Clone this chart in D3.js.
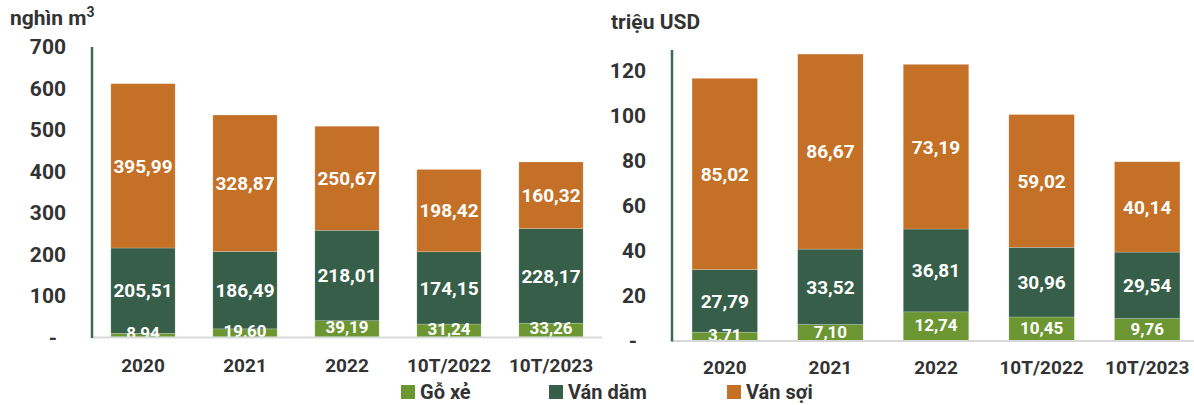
<!DOCTYPE html>
<html>
<head>
<meta charset="utf-8">
<script src="https://cdn.jsdelivr.net/npm/d3@7"></script>
<style>
  html, body { margin: 0; padding: 0; background: #fff; }
  svg { display: block; font-family: Roboto, "Open Sans", sans-serif; }
</style>
</head>
<body>
<svg id="chart" width="1194" height="405"></svg>
<script>
// Categories shared by both panels
const categories = ["2020", "2021", "2022", "10T/2022", "10T/2023"];
const seriesNames = ["Gỗ xẻ", "Ván dăm", "Ván sợi"];
const seriesColors = ["#6b9632", "#365e48", "#c47026"];

// Volume (nghìn m³)
const volGoXe   = [8.94, 19.60, 39.19, 31.24, 33.26];
const volVanDam = [205.51, 186.49, 218.01, 174.15, 228.17];
const volVanSoi = [395.99, 328.87, 250.67, 198.42, 160.32];
const volTicks  = [0, 100, 200, 300, 400, 500, 600, 700];

// Value (triệu USD)
const valGoXe   = [3.71, 7.10, 12.74, 10.45, 9.76];
const valVanDam = [27.79, 33.52, 36.81, 30.96, 29.54];
const valVanSoi = [85.02, 86.67, 73.19, 59.02, 40.14];
const valTicks  = [0, 20, 40, 60, 80, 100, 120];

const svg = d3.select("#chart");
const fmt = v => v.toFixed(2).replace(".", ",");

function drawPanel(opt) {
  const g = svg.append("g");
  const x = d3.scaleBand()
    .domain(categories)
    .range([opt.x0, opt.x1])
    .paddingInner(opt.padIn)
    .paddingOuter(opt.padOut);
  const y = d3.scaleLinear().domain([0, opt.max]).range([opt.y0, opt.yTop]);

  const rows = categories.map((c, i) => ({
    cat: c, vals: [opt.series[0][i], opt.series[1][i], opt.series[2][i]]
  }));
  const stacked = d3.stack().keys([0, 1, 2]).value((d, k) => d.vals[k])(rows);

  // stacked bars
  stacked.forEach((layer, k) => {
    g.append("g").selectAll("rect").data(layer).join("rect")
      .attr("x", d => x(d.data.cat))
      .attr("width", x.bandwidth())
      .attr("y", d => y(d[1]))
      .attr("height", d => y(d[0]) - y(d[1]))
      .attr("fill", seriesColors[k])
      .attr("stroke", "rgba(255,255,255,0.35)")
      .attr("stroke-width", 0.6);
  });

  // value labels centred in each segment
  stacked.forEach((layer, k) => {
    g.append("g").selectAll("text").data(layer).join("text")
      .attr("x", d => x(d.data.cat) + x.bandwidth() / 2)
      .attr("y", d => (y(d[0]) + y(d[1])) / 2 + (k === 0 ? opt.smallDy : 0))
      .attr("dy", "0.36em")
      .attr("text-anchor", "middle")
      .attr("fill", "#fff")
      .attr("font-weight", 700)
      .attr("font-size", k === 0 ? 17 : 19)
      .text(d => fmt(d.data.vals[k]));
  });

  // baseline
  g.append("line")
    .attr("x1", opt.x0).attr("x2", opt.baseEnd)
    .attr("y1", opt.y0 + 0.5).attr("y2", opt.y0 + 0.5)
    .attr("stroke", "#d9d9d9").attr("stroke-width", 2);

  // y axis line
  g.append("line")
    .attr("x1", opt.x0).attr("x2", opt.x0)
    .attr("y1", opt.axisTop).attr("y2", opt.y0 + 1)
    .attr("stroke", "#3d6b50").attr("stroke-width", 2.5);

  // y tick labels
  g.append("g").selectAll("text").data(opt.ticks).join("text")
    .attr("x", d => d === 0 ? opt.tickX - 13 : opt.tickX)
    .attr("y", d => y(d))
    .attr("dy", "0.36em")
    .attr("text-anchor", d => d === 0 ? "middle" : "end")
    .attr("fill", "#333")
    .attr("font-weight", 700)
    .attr("font-size", 21)
    .text(d => d === 0 ? "-" : d);

  // category labels
  g.append("g").selectAll("text").data(categories).join("text")
    .attr("x", d => x(d) + x.bandwidth() / 2)
    .attr("y", opt.catY)
    .attr("dy", "0.36em")
    .attr("text-anchor", "middle")
    .attr("fill", "#333")
    .attr("font-weight", 700)
    .attr("font-size", 19)
    .text(d => d);

  // unit title
  const t = g.append("text")
    .attr("x", opt.titleX).attr("y", opt.titleY)
    .attr("fill", "#333").attr("font-weight", 700).attr("font-size", 21);
  t.append("tspan").text(opt.title);
  if (opt.sup) t.append("tspan").attr("dy", -8).attr("font-size", 14).text(opt.sup);
}

drawPanel({
  series: [volGoXe, volVanDam, volVanSoi],
  ticks: volTicks, max: 700,
  x0: 92, x1: 602, baseEnd: 602, padIn: 0.37, padOut: 0.185,
  y0: 337, yTop: 46.5, axisTop: 47,
  tickX: 66, catY: 365, smallDy: -2,
  title: "nghìn m", sup: "3", titleX: 10, titleY: 25
});

drawPanel({
  series: [valGoXe, valVanDam, valVanSoi],
  ticks: valTicks, max: 130,
  x0: 672, x1: 1200, baseEnd: 1194, padIn: 0.38, padOut: 0.19,
  y0: 340.5, yTop: 48, axisTop: 50,
  tickX: 646, catY: 367, smallDy: -1,
  title: "triệu USD", titleX: 611, titleY: 29
});

// legend
const legendX = [401, 549, 727];
const leg = svg.append("g").selectAll("g").data(seriesNames).join("g")
  .attr("transform", (d, i) => `translate(${legendX[i]},385)`);
leg.append("rect").attr("width", 14).attr("height", 14)
  .attr("fill", (d, i) => seriesColors[i]);
leg.append("text").attr("x", 19).attr("y", 7).attr("dy", "0.36em")
  .attr("fill", "#333").attr("font-weight", 700).attr("font-size", 20)
  .text(d => d);
</script>
</body>
</html>
